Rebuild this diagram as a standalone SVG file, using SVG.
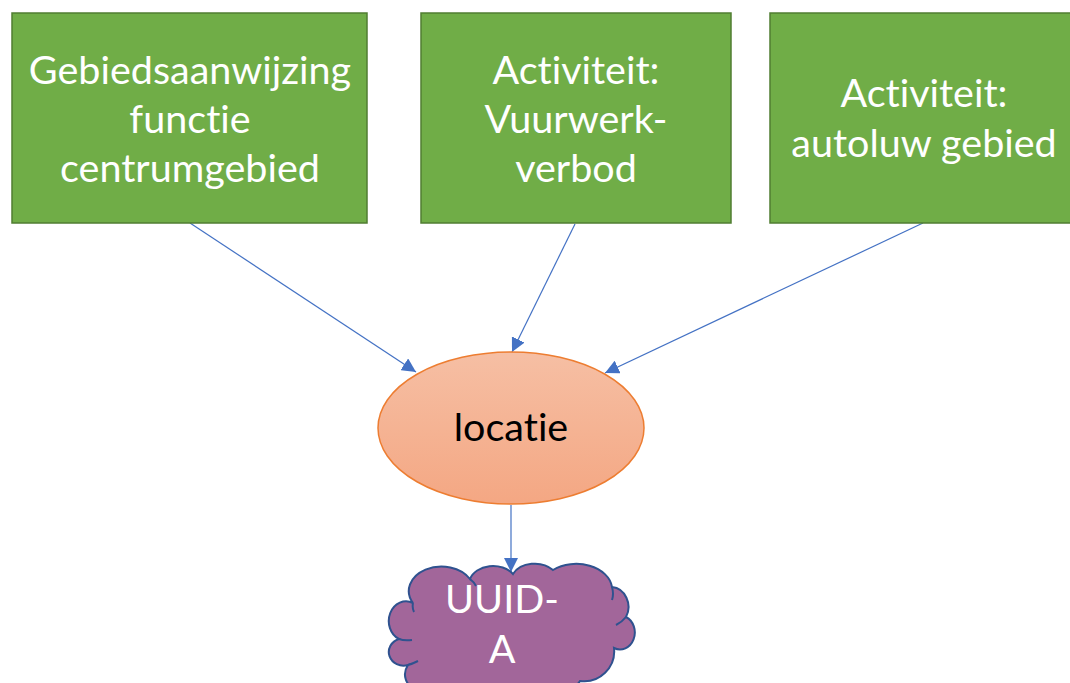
<svg xmlns="http://www.w3.org/2000/svg" width="1070" height="683" viewBox="0 0 1070 683">
  <defs>
    <linearGradient id="ovalFill" x1="0" y1="0" x2="0" y2="1">
      <stop offset="0" stop-color="#f6bfa4"/>
      <stop offset="1" stop-color="#f4a783"/>
    </linearGradient>
    <marker id="arrow" viewBox="0 0 10 10" refX="10" refY="5" markerWidth="14" markerHeight="14" markerUnits="userSpaceOnUse" orient="auto">
      <path d="M0,0 L10,5 L0,10 Z" fill="#4472c4"/>
    </marker>
    <style>
      .box { fill: #70ad47; stroke: #507e32; stroke-width: 1.5; }
      .label { font-family: Lato, "Open Sans", sans-serif; font-size: 39.5px; text-anchor: middle; fill: #ffffff; font-variant-ligatures: none; font-feature-settings: "liga" 0, "clig" 0; }
      .dark { fill: #000000; }
      .link { stroke: #4472c4; stroke-width: 1.2; fill: none; marker-end: url(#arrow); }
    </style>
  </defs>

  <g id="connectors">
    <line class="link" x1="190" y1="223" x2="416" y2="372"/>
    <line class="link" x1="575" y1="224" x2="512" y2="352"/>
    <line class="link" x1="923" y1="223" x2="605" y2="373"/>
    <line class="link" x1="511" y1="505" x2="511" y2="572"/>
  </g>

  <g id="node-gebiedsaanwijzing">
    <rect class="box" x="12" y="13" width="355" height="210"/>
    <text class="label" x="190" y="84">Gebiedsaanwijzing</text>
    <text class="label" x="190" y="133">functie</text>
    <text class="label" x="190" y="182">centrumgebied</text>
  </g>

  <g id="node-vuurwerkverbod">
    <rect class="box" x="421" y="13" width="310" height="210"/>
    <text class="label" x="576" y="84">Activiteit:</text>
    <text class="label" x="576" y="133">Vuurwerk-</text>
    <text class="label" x="576" y="182">verbod</text>
  </g>

  <g id="node-autoluw">
    <rect class="box" x="770" y="13" width="310" height="210"/>
    <text class="label" x="924" y="107">Activiteit:</text>
    <text class="label" x="924" y="157">autoluw gebied</text>
  </g>

  <g id="node-locatie">
    <ellipse cx="511" cy="428" rx="133" ry="76" fill="url(#ovalFill)" stroke="#ed7d31" stroke-width="1.5"/>
    <text class="label dark" x="511" y="441">locatie</text>
  </g>

  <g id="node-uuid">
    <path d="M 413 603 A 32 24 0 0 1 470 579 A 24 18 0 0 1 513 574 A 24 18 0 0 1 553 570 A 36 26 0 0 1 612 587 A 18 20 0 0 1 626 617 A 14 16 0 0 1 614 648 A 30 30 0 0 1 580 681 A 40 25 0 0 1 520 692 A 40 25 0 0 1 450 688 A 26 20 0 0 1 408 665 A 14 13 0 0 1 399 639 A 14 16 0 0 1 413 603 Z" fill="#a2669a" stroke="#2f528f" stroke-width="2"/>
    <path d="M 413 603 Q 412 608 414 612 M 470 579 Q 474 582 476 586 M 612 587 Q 614 594 612 600 M 626 617 Q 622 622 616 625 M 399 639 Q 404 641 412 640 M 408 665 Q 412 664 418 661" fill="none" stroke="#2f528f" stroke-width="2"/>
    <text class="label" x="502" y="613">UUID-</text>
    <text class="label" x="502" y="663">A</text>
  </g>
</svg>
